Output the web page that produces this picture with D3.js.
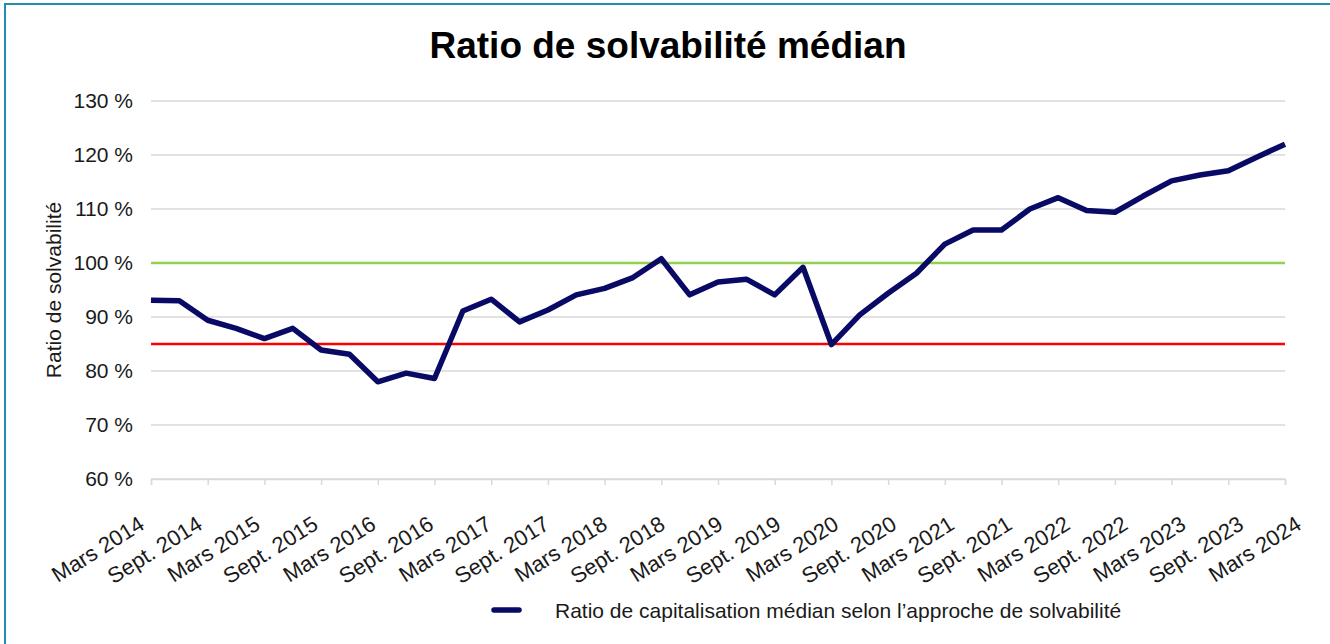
<!DOCTYPE html>
<html>
<head>
<meta charset="utf-8">
<script src="https://cdn.jsdelivr.net/npm/d3@7"></script>
<style>
  body { margin: 0; background: #fff; }
  text { font-family: "Liberation Sans", Arial, sans-serif; fill: #1a1a1a; }
</style>
</head>
<body>
<div id="chart-area"></div>
<script>
// quarterly data points, Mars 2014 -> Mars 2024
var quarters = d3.range(41);
var ratio = [93.1, 93.0, 89.4, 87.9, 86.0, 87.9, 83.9, 83.1, 78.0, 79.6,
             78.6, 91.1, 93.3, 89.1, 91.3, 94.1, 95.3, 97.3, 100.8, 94.1,
             96.5, 97.0, 94.1, 99.2, 84.9, 90.4, 94.4, 98.1, 103.5, 106.1,
             106.1, 110.0, 112.1, 109.7, 109.4, 112.4, 115.2, 116.3, 117.1, 119.6,
             122.0];
var tickLabels = ["Mars 2014", "Sept. 2014", "Mars 2015", "Sept. 2015", "Mars 2016", "Sept. 2016",
                  "Mars 2017", "Sept. 2017", "Mars 2018", "Sept. 2018", "Mars 2019", "Sept. 2019",
                  "Mars 2020", "Sept. 2020", "Mars 2021", "Sept. 2021", "Mars 2022", "Sept. 2022",
                  "Mars 2023", "Sept. 2023", "Mars 2024"];
var yTicks = [60, 70, 80, 90, 100, 110, 120, 130];
var thresholds = [
    { value: 100, color: "#92d050" },
    { value: 85, color: "#ff0000" }
];
var seriesName = "Ratio de capitalisation médian selon l’approche de solvabilité";

var W = 1330, H = 644;
var svg = d3.select("#chart-area")
  .append("svg")
    .attr("width", W)
    .attr("height", H);

// frame
svg.append("rect")
    .attr("x", 5).attr("y", 4)
    .attr("width", W + 20).attr("height", H + 20)
    .attr("fill", "none")
    .attr("stroke", "#1f8fb0")
    .attr("stroke-width", 2);

var x = d3.scaleLinear().domain([0, 40]).range([151, 1285]);
var y = d3.scaleLinear().domain([60, 130]).range([479, 101]);
// excel spreads the rotated labels a bit wider than the ticks
var xLab = d3.scalePoint().domain(tickLabels).range([146, 1303]);

// title
svg.append("text")
    .attr("x", 668).attr("y", 58)
    .attr("text-anchor", "middle")
    .style("font-size", "37px")
    .style("font-weight", "bold")
    .style("fill", "#000")
    .text("Ratio de solvabilité médian");

// gridlines
svg.append("g")
  .selectAll("line")
  .data(yTicks)
  .enter()
  .append("line")
    .attr("x1", x(0)).attr("x2", x(40))
    .attr("y1", d => y(d)).attr("y2", d => y(d))
    .attr("stroke", "#d9d9d9")
    .attr("stroke-width", 1.5);

// y axis labels
var yAxis = d3.axisLeft(y)
    .tickValues(yTicks)
    .tickSize(0)
    .tickPadding(18)
    .tickFormat(d => d + " %");
svg.append("g")
    .attr("transform", "translate(" + x(0) + ",0)")
    .call(yAxis)
    .call(g => g.select(".domain").remove())
    .selectAll("text")
      .style("font-size", "21px")
      .style("fill", "#1a1a1a");

// x axis ticks
var xAxis = d3.axisBottom(x)
    .tickValues(d3.range(0, 41, 2))
    .tickSize(6)
    .tickFormat("");
svg.append("g")
    .attr("transform", "translate(0," + y(60) + ")")
    .call(xAxis)
    .call(g => g.selectAll("line, path").attr("stroke", "#d9d9d9").attr("stroke-width", 1.5));

svg.append("g")
  .selectAll("text")
  .data(tickLabels)
  .enter()
  .append("text")
    .attr("text-anchor", "end")
    .attr("transform", d => "translate(" + xLab(d) + ",528) rotate(-32)")
    .style("font-size", "22px")
    .text(d => d);

// y title
svg.append("text")
    .attr("transform", "translate(61,290) rotate(-90)")
    .attr("text-anchor", "middle")
    .style("font-size", "21px")
    .text("Ratio de solvabilité");

// threshold lines
svg.append("g")
  .selectAll("line")
  .data(thresholds)
  .enter()
  .append("line")
    .attr("x1", x(0)).attr("x2", x(40))
    .attr("y1", d => y(d.value)).attr("y2", d => y(d.value))
    .attr("stroke", d => d.color)
    .attr("stroke-width", 2.5);

// main series
var line = d3.line()
    .x((d, i) => x(quarters[i]))
    .y(d => y(d));
svg.append("path")
    .datum(ratio)
    .attr("d", line)
    .attr("fill", "none")
    .attr("stroke", "#090966")
    .attr("stroke-width", 5.5)
    .attr("stroke-linejoin", "round");

// legend
svg.append("line")
    .attr("x1", 494).attr("x2", 519)
    .attr("y1", 610).attr("y2", 610)
    .attr("stroke", "#090966")
    .attr("stroke-width", 5.5)
    .attr("stroke-linecap", "round");
svg.append("text")
    .attr("x", 555).attr("y", 618)
    .style("font-size", "21px")
    .text(seriesName);
</script>
</body>
</html>
